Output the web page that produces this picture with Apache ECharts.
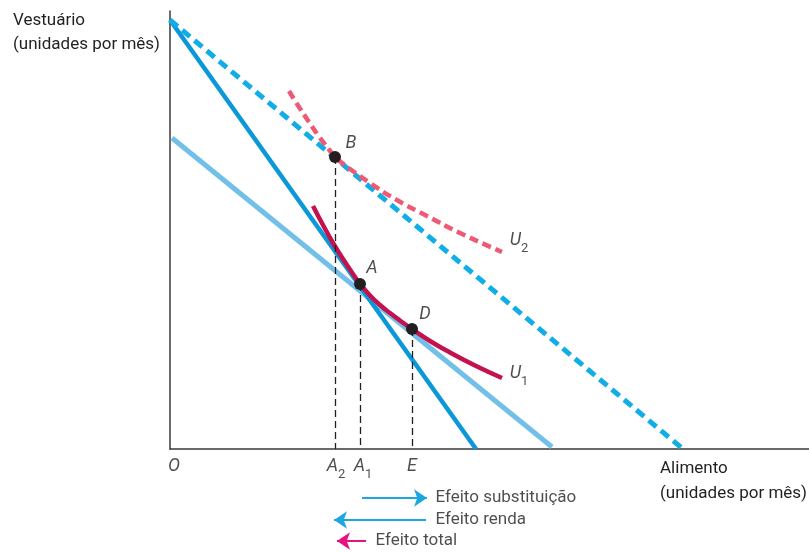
<!DOCTYPE html>
<html><head><meta charset="utf-8">
<script src="https://cdn.jsdelivr.net/npm/echarts@6/dist/echarts.min.js"></script>
<style>html,body{margin:0;padding:0;background:#fff}#c{width:809px;height:552px}</style>
</head><body><div id="c"></div>
<script>
// Axis extents (arbitrary units)
const xMax = 639, yMax = 438;
// Budget lines
const budgetSolid = [[0,429],[306,0]];
const budgetDashed = [[0,429],[513,0]];
const budgetCompensated = [[2,311],[382,2]];
// Indifference curves
const curveU2 = [[119,358],[129,342],[139,327],[149,312.5],[159,299.5],[165,292],[180,280],[200,266],[225,250],[255,234],[290,216],[332,197]];
const curveU1 = [[143,243],[153,224],[163,206],[173,190],[183,175],[190,165],[200,153.5],[210,144],[220,136],[230,128.5],[242,120],[260,108],[280,96.5],[305,83.5],[332,71]];
// Equilibrium points
const pointNames = ['B','A','D'];
const pointX = [165,190,242];
const pointY = [292,165,120];
const pointLabelX = [181,202,255];
const pointLabelY = [306,181,135];
// Curve labels
const curveNames = ['U2','U1'];
const curveLabelX = [349,349];
const curveLabelY = [209,76];
// Horizontal axis tick labels
const tickNames = ['O','A2','A1','E'];
const tickX = [4,166,193,242];
const tickY = -17;
// Effect arrows
const effectNames = ['Efeito substituição','Efeito renda','Efeito total'];
const effectFrom = [192,256,196];
const effectTo = [257,164,167];
const effectY = [-49,-71,-92];
const effectTextX = [265,265,205];
const effectColors = ['#1ca7e1','#1ca7e1','#e6127f'];

const FONT = "'Liberation Sans Narrow','Arial Narrow','Roboto',sans-serif";
const INK = '#231f20';
const CLEAR = 'rgba(0,0,0,0)';

function subLabel(name){
  if (name.length > 1) return '{i|' + name[0] + '}{s|' + name.slice(1) + '}';
  return '{i|' + name + '}';
}
const richSub = {
  i: {fontFamily: FONT, fontStyle: 'italic', fontSize: 18, color: INK, lineHeight: 30},
  s: {fontFamily: FONT, fontSize: 13, color: INK, verticalAlign: 'bottom', lineHeight: 30}
};

const chart = echarts.init(document.getElementById('c'), null, {renderer: 'canvas'});

const series = [
  {type:'line', data: budgetCompensated, symbol:'none', lineStyle:{color:'#72c0ea', width:5}, z:2, silent:true},
  {type:'line', data: budgetSolid, symbol:'none', lineStyle:{color:'#0b98d8', width:4.5}, z:3, silent:true},
  {type:'line', data: budgetDashed, symbol:'none', lineStyle:{color:'#10ade6', width:5, type:[10,6]}, z:3, silent:true},
  {type:'line', data: curveU2, smooth:0.5, symbol:'none', lineStyle:{color:'#ee5a75', width:4.5, type:[9,5]}, z:4, silent:true},
  {type:'line', data: curveU1, smooth:0.5, symbol:'none', lineStyle:{color:'#c3124e', width:4.5}, z:5, silent:true},
  {type:'lines', coordinateSystem:'cartesian2d', clip:false, silent:true, z:6,
   lineStyle:{color:INK, width:1.3, type:[7,4], opacity:1},
   data: pointX.map((x,i)=>({coords:[[x,pointY[i]],[x,0]]}))},
  {type:'scatter', data: pointX.map((x,i)=>[x,pointY[i]]), symbolSize:12, itemStyle:{color:INK, opacity:1}, z:7, silent:true},
  {type:'scatter', clip:false, silent:true, symbolSize:1, itemStyle:{color:CLEAR}, z:8,
   data: pointNames.map((n,i)=>({value:[pointLabelX[i],pointLabelY[i]], name:n})),
   label:{show:true, position:'inside', formatter:p=>subLabel(p.name), rich:richSub}},
  {type:'scatter', clip:false, silent:true, symbolSize:1, itemStyle:{color:CLEAR}, z:8,
   data: curveNames.map((n,i)=>({value:[curveLabelX[i],curveLabelY[i]], name:n})),
   label:{show:true, position:'inside', formatter:p=>subLabel(p.name), rich:richSub}},
  {type:'scatter', clip:false, silent:true, symbolSize:1, itemStyle:{color:CLEAR}, z:8,
   data: tickNames.map((n,i)=>({value:[tickX[i],tickY], name:n})),
   label:{show:true, position:'inside', formatter:p=>subLabel(p.name), rich:richSub}},
  {type:'lines', coordinateSystem:'cartesian2d', clip:false, silent:true, z:8,
   symbol:['none','arrow'], symbolSize:[11,13],
   data: effectNames.map((n,i)=>({coords:[[effectFrom[i],effectY[i]],[effectTo[i],effectY[i]]], lineStyle:{color:effectColors[i], width:2, opacity:1}}))},
  {type:'scatter', clip:false, silent:true, symbolSize:1, itemStyle:{color:CLEAR}, z:8,
   data: effectNames.map((n,i)=>({value:[effectTextX[i],effectY[i]], name:n})),
   label:{show:true, position:'right', distance:0, formatter:p=>p.name, fontFamily:FONT, fontSize:17, color:INK}}
];

chart.setOption({
  animation:false,
  backgroundColor:'#fff',
  grid:{left:170, right:0, top:11, bottom:103, containLabel:false},
  xAxis:{type:'value', min:0, max:xMax, axisLine:{show:true, onZero:false, lineStyle:{color:'#3a3a3a', width:1.5}}, axisTick:{show:false}, axisLabel:{show:false}, splitLine:{show:false}},
  yAxis:{type:'value', min:0, max:yMax, axisLine:{show:true, onZero:false, lineStyle:{color:'#3a3a3a', width:1.5}}, axisTick:{show:false}, axisLabel:{show:false}, splitLine:{show:false}},
  graphic:[
    {type:'text', right:649, top:9, style:{text:'Vestuário\n(unidades por mês)', align:'right', fontFamily:FONT, fontSize:17, lineHeight:24, fill:INK}},
    {type:'text', right:2, top:456, style:{text:'Alimento\n(unidades por mês)', align:'right', fontFamily:FONT, fontSize:17, lineHeight:25, fill:INK}}
  ],
  series: series
});
</script></body></html>
